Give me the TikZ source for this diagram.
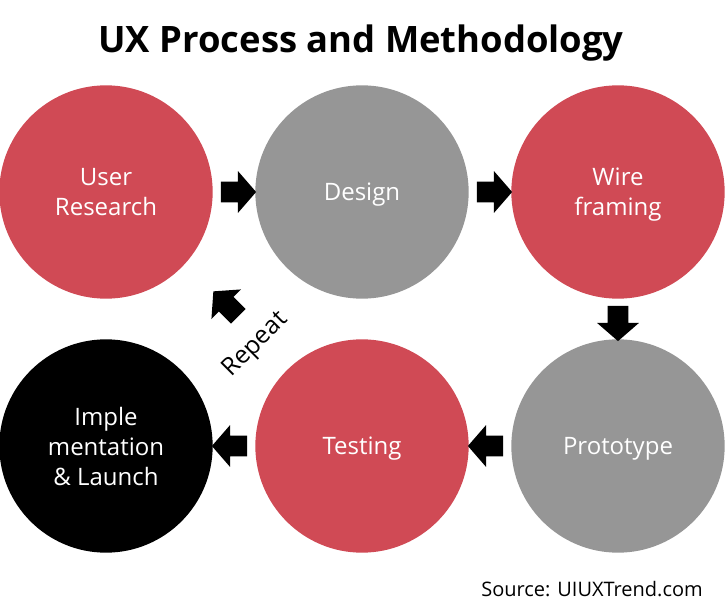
\documentclass[tikz,border=0pt]{standalone}
\usepackage{fontspec}
\setmainfont{Open Sans}
\usepackage{tikz}
\usetikzlibrary{
    positioning,
    calc,
    shapes.arrows
}
\definecolor{uxred}{RGB}{208,74,85}
\definecolor{uxgray}{RGB}{150,150,150}
\tikzset{
    stage/.style={
        circle,
        minimum size=160pt,
        inner sep=0pt,
        text=white,
        text depth=0pt,
        align=center,
        font=\fontsize{18}{22.5}\selectfont
    },
    stagered/.style={
        stage,
        fill=uxred
    },
    stagegray/.style={
        stage,
        fill=uxgray
    },
    stageblack/.style={
        stage,
        fill=black
    },
    blkarr/.style={
        single arrow,
        fill=black,
        inner xsep=0pt,
        inner ysep=7.5pt,
        minimum height=26.5pt,
        single arrow head extend=8pt,
        single arrow tip angle=98
    },
    lab/.style={
        font=\fontsize{18.5}{22.5}\selectfont,
        align=center
    }
}

\begin{document}
\begin{tikzpicture}[x=0.75pt,y=-0.75pt]
\useasboundingbox (0,0) rectangle (725,614);
\node[anchor=base, inner sep=0pt, font=\fontsize{27.3}{34}\selectfont\bfseries] (ttl) at (361,52) {UX Process and Methodology};
\node[stagered] (ur) at (106,192) {User\\Research};
\node[stagegray] (des) at (362,192) {Design};
\node[stagered] (wf) at (618,192) {Wire\\framing};
\node[stageblack] (imp) at (106,446) {Imple\\mentation\\\& Launch};
\node[stagered] (tst) at (362,446) {Testing};
\node[stagegray] (pro) at (618,446) {Prototype};
\node[blkarr] (a1) at ($(ur)!0.5!(des)$) {};
\node[blkarr] (a2) at ($(des)!0.5!(wf)$) {};
\node[blkarr, rotate=-90] (a3) at ($(wf)!0.5!(pro)$) {};
\node[blkarr, rotate=180] (a4) at ($(pro)!0.5!(tst)$) {};
\node[blkarr, rotate=180] (a5) at ($(tst)!0.5!(imp)$) {};
\node[blkarr, rotate=135] (a6) at (229,307) {};
\node[lab, rotate=45] (rpt) at (256,345) {Repeat};
\node[anchor=base east, inner sep=0pt, font=\fontsize{15}{18}\selectfont] (src) at (703,596) {Source: UIUXTrend.com};
\end{tikzpicture}
\end{document}
